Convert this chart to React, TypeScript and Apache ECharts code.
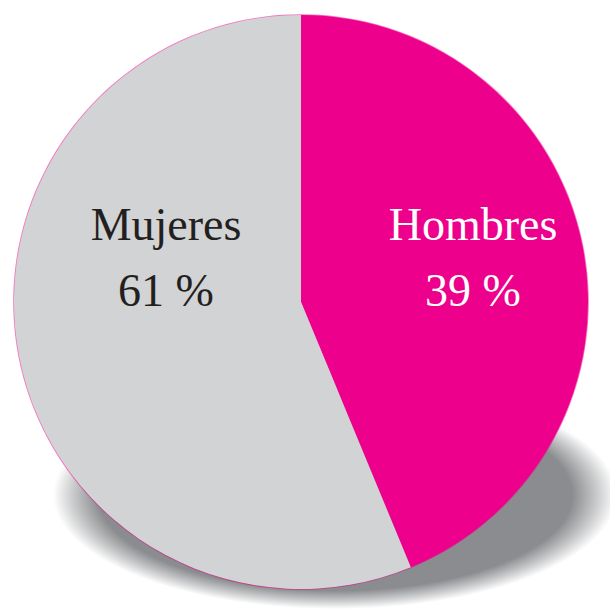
import React, { useEffect, useRef } from "react";
import * as echarts from "echarts";

// Categories and their printed percentages
const categories = ["Hombres", "Mujeres"];
const printedPercents = [39, 61];
// Angular shares as drawn in the picture (the slice boundaries)
const drawnShares = [43.75, 56.25];
const sliceColors = ["#EC008C", "#D1D3D4"];
const textColors = ["#FFFFFF", "#231F20"];
const labelCenters = [
  [473, 224, 290],
  [166, 224, 290],
];

export default function App() {
  const ref = useRef<HTMLDivElement>(null);
  useEffect(() => {
    document.body.style.margin = "0";
    const chart = echarts.init(ref.current!, null, { renderer: "svg" });
    const cx = 301;
    const cy = 302;
    const r = 287;
    const font = '"Liberation Serif", "Times New Roman", serif';
    const texts: any[] = [];
    categories.forEach((c, i) => {
      const [x, y1, y2] = labelCenters[i];
      texts.push({
        type: "text",
        z: 100,
        x,
        y: y1,
        style: {
          text: c,
          fill: textColors[i],
          font: `46px ${font}`,
          align: "center",
          verticalAlign: "middle",
        },
      });
      texts.push({
        type: "text",
        z: 100,
        x,
        y: y2,
        style: {
          text: `${printedPercents[i]} %`,
          fill: textColors[i],
          font: `46px ${font}`,
          align: "center",
          verticalAlign: "middle",
        },
      });
    });
    chart.setOption({
      animation: false,
      backgroundColor: "#FFFFFF",
      graphic: [
        {
          type: "ellipse",
          z: 0,
          shape: { cx: 335, cy: 495, rx: 282, ry: 114 },
          style: {
            fill: new echarts.graphic.RadialGradient(0.5, 0.5, 0.5, [
              { offset: 0, color: "rgba(138,140,143,1)" },
              { offset: 0.84, color: "rgba(138,140,143,1)" },
              { offset: 0.93, color: "rgba(138,140,143,0.45)" },
              { offset: 1, color: "rgba(138,140,143,0)" },
            ]),
          },
        },
        {
          type: "circle",
          z: 1,
          shape: { cx, cy, r: r + 0.8 },
          style: { fill: "rgba(236,0,140,0.55)" },
        },
        ...texts,
      ],
      series: [
        {
          type: "pie",
          z: 2,
          silent: true,
          center: [cx, cy],
          radius: [0, r],
          startAngle: 90,
          clockwise: true,
          label: { show: false },
          labelLine: { show: false },
          itemStyle: { borderWidth: 0 },
          data: categories.map((c, i) => ({
            name: c,
            value: drawnShares[i],
            itemStyle: { color: sliceColors[i] },
          })),
        },
      ],
    });
    return () => chart.dispose();
  }, []);
  return <div ref={ref} style={{ width: 610, height: 610 }} />;
}
